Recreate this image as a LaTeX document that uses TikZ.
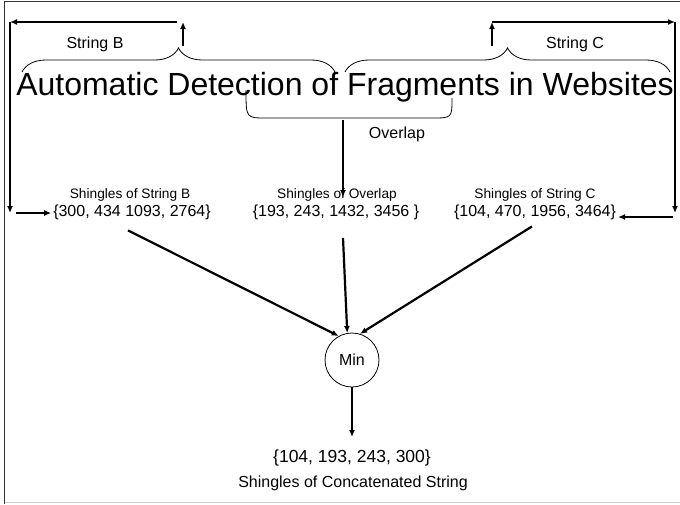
\documentclass[tikz,border=0pt]{standalone}
\usepackage{fontspec}
\setmainfont{Liberation Sans}
\usetikzlibrary{arrows.meta,positioning,decorations.pathreplacing}

\begin{document}
\begin{tikzpicture}[x=1pt, y=-1pt, line width = 2.2pt,
        >={Latex[length=7pt,width=6pt]},
        strbrace/.style = {decorate, decoration={brace, amplitude=24pt}, line width=0.8pt},
        lbl/.style = {font=\fontsize{16}{18}\selectfont, inner sep=0pt, anchor=base},
        small/.style = {font=\fontsize{13.7}{15}\selectfont, inner sep=0pt, anchor=base}]
    \useasboundingbox (0,0) rectangle (680,504);
    % frame of the screenshot
    \draw [black!80, line width=1.2pt] (4.5,504) -- (4.5,1.5) -- (680,1.5);
    \draw [black!20, line width=1pt] (4.5,502.5) -- (680,502.5);

    \node (title) [font=\fontsize{32}{36}\selectfont, inner sep=0pt, anchor=base] at (345,95)
        {Automatic Detection of Fragments in Websites};

    % braces over the title
    \draw [strbrace] (22,72) -- (335,72);
    \draw [strbrace] (345,72) -- (670,72);
    \draw [line width=0.8pt] (246,90) .. controls (246,118) .. (266,118) -- (432,118)
        .. controls (452,118) .. (452,98);
    \node (strB) [lbl] at (95,48) {String B};
    \node (strC) [lbl] at (575,48) {String C};
    \node (ovl) [lbl] at (397,138) {Overlap};

    % shingle sets
    \node (setB) [lbl] at (132,216) {\{300, 434 1093, 2764\}};
    \node (setO) [lbl] at (336,216) {\{193, 243, 1432, 3456 \}};
    \node (setC) [lbl] at (535,216) {\{104, 470, 1956, 3464\}};
    \node (lblB) [small] at (130,198) {Shingles of String B};
    \node (lblO) [small] at (337,198) {Shingles of Overlap};
    \node (lblC) [small] at (535,198) {Shingles of String C};

    \node (min) [circle, draw, line width=0.8pt, minimum size=54pt, inner sep=0pt,
        font=\fontsize{16}{18}\selectfont] at (352,360) {Min};
    \node (setAll) [lbl, font=\fontsize{17.5}{20}\selectfont] at (352,462) {\{104, 193, 243, 300\}};
    \node (lblAll) [lbl] at (353,487) {Shingles of Concatenated String};

    % routing coordinates
    \coordinate (tipB) at (183,46);
    \coordinate (upB) at (183,22);
    \coordinate (cornerB) at (10,22);
    \coordinate (downB) at (10,213);
    \coordinate (tipC) at (492,46);
    \coordinate (upC) at (492,22);
    \coordinate (cornerC) at (675,22);
    \coordinate (downC) at (675,213);
    \coordinate (tipO) at (343,120);
    \coordinate (endO) at (343,197);
    \coordinate (startO) at (343,238);

    \draw [->] (tipB) -- (upB);
    \draw [->, shorten <=6pt] (upB) -- (cornerB);
    \draw [->] (cornerB) -- (downB);
    \draw [->, shorten <=6pt, shorten >=1pt] (downB) -- (setB.west |- downB);

    \draw [->] (tipC) -- (upC);
    \draw [->] (upC) -- (cornerC);
    \draw [->] (cornerC) -- (downC);
    \draw [->, shorten <=2pt, shorten >=1pt] ([yshift=-4pt]downC) -- ([yshift=-4pt]setC.east |- downC);

    \draw [->] (tipO) -- (endO);

    % into the minimum
    \draw [->] ([xshift=-4pt]setB.south) ++(0,10) -- (min.119);
    \draw [->] (startO) -- (min.100);
    \draw [->] (setC.south) ++(-3,6) -- (min.73);
    \draw [->] (min) -- ++(0,77);
\end{tikzpicture}
\end{document}
